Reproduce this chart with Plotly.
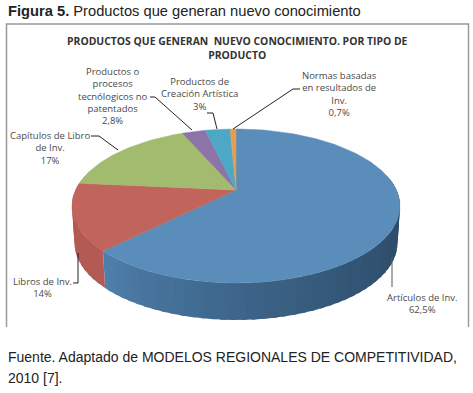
import math
import plotly.graph_objects as go

categories = ["Artículos de Inv.", "Libros de Inv.", "Capítulos de Libro de Inv.",
              "Productos o procesos tecnólogicos no patentados", "Productos de Creación Artística",
              "Normas basadas en resultados de Inv."]
values = [62.5, 14, 17, 2.8, 3, 0.7]
value_labels = ["62,5%", "14%", "17%", "2,8%", "3%", "0,7%"]
top_colors = ["#5A8DB9", "#C0645C", "#A3BB6E", "#8C73A8", "#4CA8C4", "#E79C50"]
side_light = ["#4F80AC", "#B25A53", "#8FA660", "#7A6493", "#4192AB", "#C98745"]
side_dark = ["#2B4965", "#B25A53", "#8FA660", "#7A6493", "#4192AB", "#C98745"]

CX, AY, A, C, D = 236.0, 190.0, -34.2, 0.2078, 160.4
DEPTH, SHRINK = 37.0, 0.985


def top_pt(t):
    u, v = math.sin(t), math.cos(t)
    w = 1 + C * v
    return CX + D * u / w, (AY + A * v) / w


def low_pt(t):
    x, y = top_pt(t)
    return CX + (x - CX) * SHRINK, y + DEPTH


def mix(a, b, f):
    ca = [int(a[i:i + 2], 16) for i in (1, 3, 5)]
    cb = [int(b[i:i + 2], 16) for i in (1, 3, 5)]
    return "#%02x%02x%02x" % tuple(round(p + (q - p) * f) for p, q in zip(ca, cb))


fig = go.Figure()
total = sum(values)
spans = []
acc = 0.0
for v in values:
    spans.append((acc / total * 2 * math.pi, (acc + v) / total * 2 * math.pi))
    acc += v

# Side wall, only the front half is visible
front_a, front_b = math.radians(78), math.radians(282)
overlap = math.radians(1.5)
for i, (s, e) in enumerate(spans):
    a, b = max(s, front_a), min(e, front_b)
    if a >= b:
        continue
    n = max(2, int((b - a) / math.radians(3)))
    for k in range(n):
        t0 = a + (b - a) * k / n
        t1 = min(b, a + (b - a) * (k + 1) / n + overlap)
        f = (k + 0.5) / n
        col = mix(side_dark[i], side_light[i], f ** 1.8)
        p0, p1, q1, q0 = top_pt(t0), top_pt(t1), low_pt(t1), low_pt(t0)
        fig.add_trace(go.Scatter(x=[p0[0], p1[0], q1[0], q0[0], p0[0]],
                                 y=[p0[1], p1[1], q1[1], q0[1], p0[1]],
                                 mode="lines", fill="toself", fillcolor=col,
                                 line=dict(color=col, width=0), hoverinfo="skip", showlegend=False))

# Top face
for i, (s, e) in enumerate(spans):
    n = max(3, int((e - s) / math.radians(1.5)))
    pts = [top_pt(s + (e - s) * k / n) for k in range(n + 1)]
    xs = [CX] + [p[0] for p in pts] + [CX]
    ys = [AY] + [p[1] for p in pts] + [AY]
    fig.add_trace(go.Scatter(x=xs, y=ys, mode="lines", fill="toself", fillcolor=top_colors[i],
                             line=dict(color=top_colors[i], width=0.5), name=categories[i],
                             hoverinfo="name", showlegend=False))

TXT = "#4a4a4a"
CHART_FONT = "Open Sans"
NARROW = "Liberation Sans"


def note(x, y, text, size=9.5, color=TXT, family=CHART_FONT, anchor="center"):
    fig.add_annotation(x=x, y=y, xref="x", yref="y", text=text, showarrow=False, xanchor=anchor,
                       yanchor="middle", align="left" if anchor == "left" else "center",
                       font=dict(size=size, color=color, family=family))


note(6, 11, "<b>Figura 5.</b> Productos que generan nuevo conocimiento", 14.7, "#222222", NARROW, "left")
note(237, 47.5, "<b>PRODUCTOS QUE GENERAN  NUEVO CONOCIMIENTO. POR TIPO DE<br>PRODUCTO</b>", 10.4, "#333333")
note(113, 95.5, "Productos o<br>procesos<br>tecnólogicos no<br>patentados<br>" + value_labels[3])
note(199, 94, "Productos de<br>Creación Artística<br>" + value_labels[4])
note(339, 94, "Normas basadas<br>en resultados de<br>Inv.<br>" + value_labels[5])
note(50, 148, "Capítulos de Libro<br>de Inv.<br>" + value_labels[2])
note(42, 287.5, "Libros de Inv.<br>" + value_labels[1])
note(422, 303.5, "Artículos de Inv.<br>" + value_labels[0])
note(6, 357, "Fuente. Adaptado de MODELOS REGIONALES DE COMPETITIVIDAD,", 14, "#222222", NARROW, "left")
note(6, 378, "2010 [7].", 14, "#222222", NARROW, "left")

leaders = [
    [(150, 97), (155, 97), (192, 130)],
    [(207, 113), (213, 113), (217, 129)],
    [(300, 89), (293, 89), (233, 129)],
    [(91, 136), (99, 136), (118, 150)],
    [(73, 283), (78, 283), (78, 253)],
    [(392, 287), (392, 257)],
]
shapes = [
    dict(type="path", path="M6.5,327 L6.5,24 L468.5,24 L468.5,327", line=dict(color="#9a9a9a", width=1.5),
         xref="x", yref="y", layer="below"),
]
for path in leaders:
    d = "M" + " L".join(f"{x},{y}" for x, y in path)
    col = "#555555" if len(path) == 2 else "#222222"
    shapes.append(dict(type="path", path=d, line=dict(color=col, width=1), xref="x", yref="y"))

fig.update_layout(
    width=473, height=393, margin=dict(l=0, r=0, t=0, b=0),
    paper_bgcolor="white", plot_bgcolor="white", showlegend=False, shapes=shapes,
    xaxis=dict(range=[0, 473], visible=False, fixedrange=True),
    yaxis=dict(range=[393, 0], visible=False, fixedrange=True),
)
fig.write_html("out.html", config={"displayModeBar": False},
               post_script="document.body.style.margin='0';document.documentElement.style.overflow='hidden';")
